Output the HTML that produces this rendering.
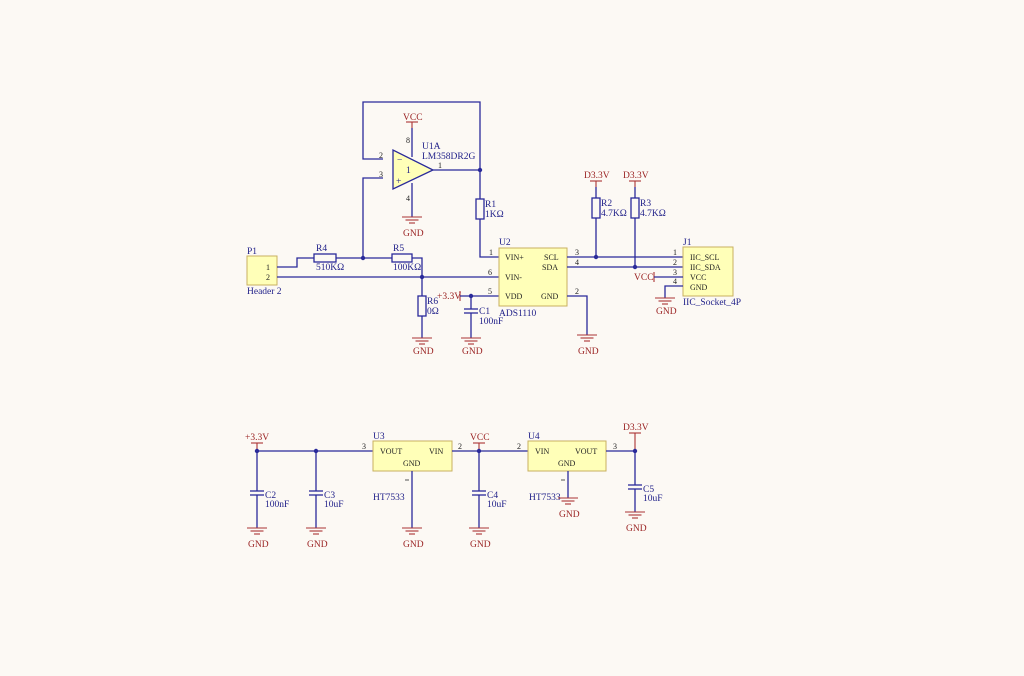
<!DOCTYPE html>
<html><head><meta charset="utf-8"><style>
html,body{margin:0;padding:0;background:#fcf9f4;}
svg{display:block;font-family:"Liberation Serif",serif;}
.w{stroke:#2a2a9a;stroke-width:1.3;fill:none}
.r{stroke:#a33;stroke-width:1.1;fill:none}
.b{fill:#ffffb8;stroke:#c8b060;stroke-width:1}
.t{font-size:9.5px;fill:#22228a}
.rt{font-size:9.5px;fill:#9a2222}
.n{font-size:8px;fill:#222}
.res{fill:#fcf9f4;stroke:#2a2a9a;stroke-width:1.3}
</style></head><body>
<svg width="1024" height="676" viewBox="0 0 1024 676" xmlns="http://www.w3.org/2000/svg">
<defs>
<g id="gnd"><line x1="-10" y1="0" x2="10" y2="0" class="r"/><line x1="-6.5" y1="3" x2="6.5" y2="3" class="r"/><line x1="-3" y1="6" x2="3" y2="6" class="r"/></g>
<g id="cap"><line x1="-7" y1="0" x2="7" y2="0" class="w"/><line x1="-7" y1="4" x2="7" y2="4" class="w"/></g>
</defs>

<polyline class="w" points="383,159 363,159 363,102 480,102 480,199"/>
<polyline class="w" points="383,178 363,178 363,258"/>
<line class="w" x1="433" y1="170" x2="480" y2="170"/>
<polygon points="393,150 393,189 433,170" fill="#ffffb8" stroke="#2a2a9a" stroke-width="1.3"/>
<text x="397" y="163" class="t" font-size="11">−</text>
<text x="396" y="184" class="t" font-size="11">+</text>
<text x="406" y="173" class="t" font-size="8">1</text>
<text x="379" y="158" class="n">2</text><text x="379" y="177" class="n">3</text>
<text x="438" y="168" class="n">1</text>
<text x="406" y="143" class="n" font-size="6">8</text><text x="406" y="201" class="n" font-size="6">4</text>
<text x="422" y="149" class="t">U1A</text><text x="422" y="159" class="t">LM358DR2G</text>
<line class="r" x1="412" y1="122" x2="412" y2="128"/><line class="r" x1="406" y1="122" x2="418" y2="122"/>
<line class="w" x1="412" y1="128" x2="412" y2="157"/>
<text x="403" y="120" class="rt">VCC</text>
<line class="w" x1="412" y1="183" x2="412" y2="217"/>
<use href="#gnd" x="412" y="217"/><text x="403" y="236" class="rt">GND</text>

<rect class="res" x="476" y="199" width="8" height="20"/>
<text x="485" y="207" class="t">R1</text><text x="485" y="217" class="t">1KΩ</text>
<polyline class="w" points="480,219 480,257 499,257"/>
<circle cx="480" cy="170" r="2.2" fill="#2a2a9a"/>

<rect class="b" x="247" y="256" width="30" height="29"/>
<text x="247" y="254" class="t">P1</text><text x="247" y="294" class="t">Header 2</text>
<text x="266" y="270" class="n">1</text><text x="266" y="280" class="n">2</text>
<polyline class="w" points="277,267 297,267 297,258 314,258"/>
<rect class="res" x="314" y="254" width="22" height="8"/>
<text x="316" y="251" class="t">R4</text><text x="316" y="270" class="t">510KΩ</text>
<line class="w" x1="336" y1="258" x2="392" y2="258"/>
<circle cx="363" cy="258" r="2.2" fill="#2a2a9a"/>
<rect class="res" x="392" y="254" width="20" height="8"/>
<text x="393" y="251" class="t">R5</text><text x="393" y="270" class="t">100KΩ</text>
<polyline class="w" points="412,258 422,258 422,296"/>
<line class="w" x1="277" y1="277" x2="499" y2="277"/>
<circle cx="422" cy="277" r="2.2" fill="#2a2a9a"/>
<rect class="res" x="418" y="296" width="8" height="20"/>
<text x="427" y="304" class="t">R6</text><text x="427" y="314" class="t">0Ω</text>
<line class="w" x1="422" y1="316" x2="422" y2="338"/>
<use href="#gnd" x="422" y="338"/><text x="413" y="354" class="rt">GND</text>

<text x="437" y="299" class="rt">+3.3V</text>
<line class="r" x1="460" y1="291" x2="460" y2="301"/>
<line class="w" x1="460" y1="296" x2="499" y2="296"/>
<circle cx="471" cy="296" r="2.2" fill="#2a2a9a"/>
<line class="w" x1="471" y1="296" x2="471" y2="309"/>
<use href="#cap" x="471" y="309"/>
<line class="w" x1="471" y1="313" x2="471" y2="338"/>
<text x="479" y="314" class="t">C1</text><text x="479" y="324" class="t">100nF</text>
<use href="#gnd" x="471" y="338"/><text x="462" y="354" class="rt">GND</text>

<rect class="b" x="499" y="248" width="68" height="58"/>
<text x="499" y="245" class="t">U2</text><text x="499" y="316" class="t">ADS1110</text>
<text x="505" y="260" class="n" font-size="9">VIN+</text>
<text x="505" y="280" class="n" font-size="9">VIN-</text>
<text x="505" y="299" class="n" font-size="9">VDD</text>
<text x="544" y="260" class="n" font-size="9">SCL</text>
<text x="542" y="270" class="n" font-size="9">SDA</text>
<text x="541" y="299" class="n" font-size="9">GND</text>
<text x="489" y="255" class="n">1</text><text x="488" y="275" class="n">6</text><text x="488" y="294" class="n">5</text>
<text x="575" y="255" class="n">3</text><text x="575" y="265" class="n">4</text><text x="575" y="294" class="n">2</text>
<polyline class="w" points="567,296 587,296 587,335"/>
<use href="#gnd" x="587" y="335"/><text x="578" y="354" class="rt">GND</text>
<line class="w" x1="567" y1="257" x2="683" y2="257"/>
<line class="w" x1="567" y1="267" x2="683" y2="267"/>

<text x="584" y="178" class="rt">D3.3V</text><text x="623" y="178" class="rt">D3.3V</text>
<line class="r" x1="590" y1="181" x2="602" y2="181"/><line class="r" x1="629" y1="181" x2="641" y2="181"/>
<line class="r" x1="596" y1="181" x2="596" y2="187"/><line class="r" x1="635" y1="181" x2="635" y2="187"/>
<line class="w" x1="596" y1="187" x2="596" y2="198"/><line class="w" x1="635" y1="187" x2="635" y2="198"/>
<rect class="res" x="592" y="198" width="8" height="20"/><rect class="res" x="631" y="198" width="8" height="20"/>
<text x="601" y="206" class="t">R2</text><text x="601" y="216" class="t">4.7KΩ</text>
<text x="640" y="206" class="t">R3</text><text x="640" y="216" class="t">4.7KΩ</text>
<line class="w" x1="596" y1="218" x2="596" y2="257"/><line class="w" x1="635" y1="218" x2="635" y2="267"/>
<circle cx="596" cy="257" r="2.2" fill="#2a2a9a"/><circle cx="635" cy="267" r="2.2" fill="#2a2a9a"/>

<rect class="b" x="683" y="247" width="50" height="49"/>
<text x="683" y="245" class="t">J1</text><text x="683" y="305" class="t">IIC_Socket_4P</text>
<text x="690" y="260" class="n" font-size="9">IIC_SCL</text>
<text x="690" y="270" class="n" font-size="9">IIC_SDA</text>
<text x="690" y="280" class="n" font-size="9">VCC</text>
<text x="690" y="290" class="n" font-size="9">GND</text>
<text x="673" y="255" class="n">1</text><text x="673" y="265" class="n">2</text><text x="673" y="275" class="n">3</text><text x="673" y="284" class="n">4</text>
<text x="634" y="280" class="rt">VCC</text>
<line class="r" x1="654" y1="272" x2="654" y2="282"/>
<line class="w" x1="654" y1="277" x2="683" y2="277"/>
<polyline class="w" points="683,286 665,286 665,298"/>
<use href="#gnd" x="665" y="298"/><text x="656" y="314" class="rt">GND</text>

<text x="245" y="440" class="rt">+3.3V</text>
<line class="r" x1="251" y1="443" x2="263" y2="443"/><line class="r" x1="257" y1="443" x2="257" y2="451"/>
<line class="w" x1="257" y1="451" x2="373" y2="451"/>
<circle cx="257" cy="451" r="2.2" fill="#2a2a9a"/><circle cx="316" cy="451" r="2.2" fill="#2a2a9a"/>
<text x="362" y="449" class="n">3</text>
<line class="w" x1="257" y1="451" x2="257" y2="491"/><use href="#cap" x="257" y="491"/><line class="w" x1="257" y1="495" x2="257" y2="528"/>
<use href="#gnd" x="257" y="528"/><text x="248" y="547" class="rt">GND</text>
<text x="265" y="498" class="t">C2</text><text x="265" y="507" class="t">100nF</text>
<line class="w" x1="316" y1="451" x2="316" y2="491"/><use href="#cap" x="316" y="491"/><line class="w" x1="316" y1="495" x2="316" y2="528"/>
<use href="#gnd" x="316" y="528"/><text x="307" y="547" class="rt">GND</text>
<text x="324" y="498" class="t">C3</text><text x="324" y="507" class="t">10uF</text>

<rect class="b" x="373" y="441" width="79" height="30"/>
<text x="373" y="439" class="t">U3</text><text x="373" y="500" class="t">HT7533</text>
<text x="380" y="454" class="n" font-size="9">VOUT</text><text x="429" y="454" class="n" font-size="9">VIN</text>
<text x="403" y="466" class="n" font-size="9">GND</text>
<line class="w" x1="412" y1="471" x2="412" y2="528"/><line x1="405" y1="480" x2="409" y2="480" stroke="#555"/>
<use href="#gnd" x="412" y="528"/><text x="403" y="547" class="rt">GND</text>
<line class="w" x1="452" y1="451" x2="528" y2="451"/>
<text x="458" y="449" class="n">2</text><text x="517" y="449" class="n">2</text>
<text x="470" y="440" class="rt">VCC</text>
<line class="r" x1="473" y1="443" x2="485" y2="443"/><line class="r" x1="479" y1="443" x2="479" y2="451"/>
<circle cx="479" cy="451" r="2.2" fill="#2a2a9a"/>
<line class="w" x1="479" y1="451" x2="479" y2="491"/><use href="#cap" x="479" y="491"/><line class="w" x1="479" y1="495" x2="479" y2="528"/>
<use href="#gnd" x="479" y="528"/><text x="470" y="547" class="rt">GND</text>
<text x="487" y="498" class="t">C4</text><text x="487" y="507" class="t">10uF</text>

<rect class="b" x="528" y="441" width="78" height="30"/>
<text x="528" y="439" class="t">U4</text><text x="529" y="500" class="t">HT7533</text>
<text x="535" y="454" class="n" font-size="9">VIN</text><text x="575" y="454" class="n" font-size="9">VOUT</text>
<text x="558" y="466" class="n" font-size="9">GND</text>
<line class="w" x1="568" y1="471" x2="568" y2="498"/><line x1="561" y1="480" x2="565" y2="480" stroke="#555"/>
<use href="#gnd" x="568" y="498"/><text x="559" y="517" class="rt">GND</text>
<line class="w" x1="606" y1="451" x2="635" y2="451"/>
<text x="613" y="449" class="n">3</text>
<text x="623" y="430" class="rt">D3.3V</text>
<line class="r" x1="629" y1="433" x2="641" y2="433"/><line class="r" x1="635" y1="433" x2="635" y2="451"/>
<circle cx="635" cy="451" r="2.2" fill="#2a2a9a"/>
<line class="w" x1="635" y1="451" x2="635" y2="485"/><use href="#cap" x="635" y="485"/><line class="w" x1="635" y1="489" x2="635" y2="512"/>
<use href="#gnd" x="635" y="512"/><text x="626" y="531" class="rt">GND</text>
<text x="643" y="492" class="t">C5</text><text x="643" y="501" class="t">10uF</text>
</svg>
</body></html>
